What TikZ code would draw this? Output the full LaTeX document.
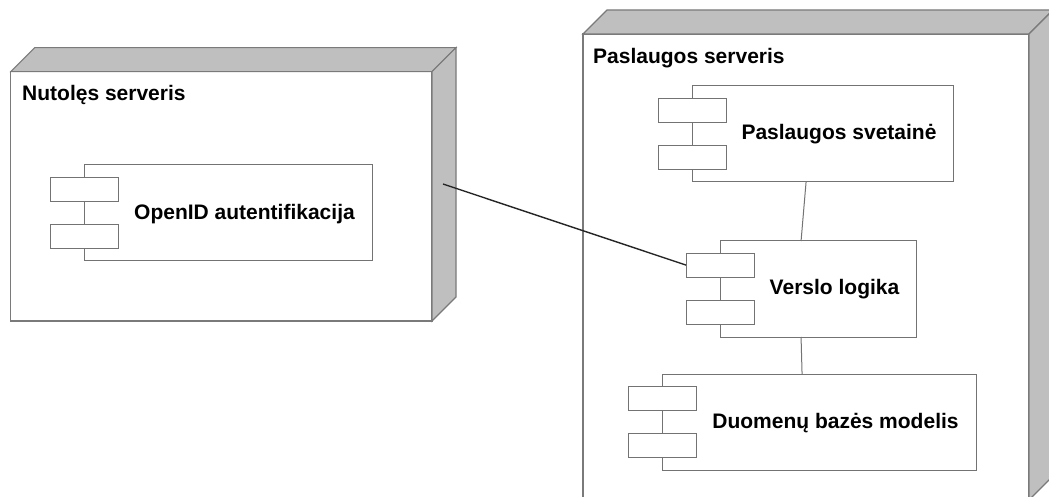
\documentclass[tikz,border=0pt]{standalone}
\usepackage{fontspec}
\setmainfont{Liberation Sans}
\usetikzlibrary{calc}
\begin{document}
\begin{tikzpicture}[x=1bp,y=-1bp,
  outline/.style={draw=black!52, line width=1.1bp},
  frontface/.style={outline, fill=white, inner sep=0pt, outer sep=0pt, anchor=north west},
  sideface/.style={outline, fill=black!25, line join=miter},
  comp/.style={draw=black!55, line width=1bp, fill=white, inner sep=0pt, outer sep=0pt,
    minimum height=96bp, anchor=north west},
  port/.style={draw=black!55, line width=1bp, fill=white, inner sep=0pt, outer sep=0pt,
    minimum width=68bp, minimum height=24bp},
  nodetitle/.style={font=\bfseries\fontsize{21bp}{25bp}\selectfont, anchor=base west, inner sep=0pt},
  comptext/.style={font=\bfseries\fontsize{21bp}{25bp}\selectfont, anchor=base, inner sep=0pt},
  wire/.style={draw=black!55, line width=1bp},
  link/.style={draw=black!85, line width=1.4bp},
]
\clip (0,0) rectangle (1049,497);
\fill[white] (0,0) rectangle (1049,497);

% ---- remote server node ----
\node[frontface, minimum width=421.3bp, minimum height=249.3bp] (remote) at (10.7,71.7) {};
\draw[sideface] (remote.north west) -- ++(24,-24) -- ($(remote.north east)+(24,-24)$) -- (remote.north east) -- cycle;
\draw[sideface] (remote.north east) -- ++(24,-24) -- ($(remote.south east)+(24,-24)$) -- (remote.south east) -- cycle;
\node[nodetitle] (remoteT) at (22,101) {Nutolęs serveris};

% ---- service server node ----
\node[frontface, minimum width=446bp, minimum height=466bp] (service) at (583,34) {};
\draw[sideface] (service.north west) -- ++(24,-24) -- ($(service.north east)+(24,-24)$) -- (service.north east) -- cycle;
\draw[sideface] (service.north east) -- ++(24,-24) -- ($(service.south east)+(24,-24)$) -- (service.south east) -- cycle;
\node[nodetitle] (serviceT) at (593,64) {Paslaugos serveris};

% ---- components ----
\node[comp, minimum width=288bp] (auth) at (84,165) {};
\node[comp, minimum width=261bp] (svc) at (692,86) {};
\node[comp, minimum width=196bp] (biz) at (720,241) {};
\node[comp, minimum width=314bp] (db) at (662,374) {};

\foreach \c in {auth,svc,biz,db}{
  \node[port] (\c P1) at ([yshift=24]\c.west) {};
  \node[port] (\c P2) at ([yshift=-24]\c.west) {};
}

\node[comptext] (authL) at ([shift={(16.5,7)}]auth.center) {OpenID autentifikacija};
\node[comptext] (svcL) at ([shift={(16.5,6)}]svc.center) {Paslaugos svetainė};
\node[comptext] (bizL) at ([shift={(16.5,6)}]biz.center) {Verslo logika};
\node[comptext] (dbL) at ([shift={(16.5,6)}]db.center) {Duomenų bazės modelis};

% ---- connectors ----
\coordinate (remoteLink) at (443,184);
\draw[link] (remoteLink) -- (bizP1.west);
\draw[wire] ([xshift=-16.5]svc.south) -- ([xshift=-17]biz.north);
\draw[wire] ([xshift=-17]biz.south) -- ([xshift=-17]db.north);
\end{tikzpicture}
\end{document}
